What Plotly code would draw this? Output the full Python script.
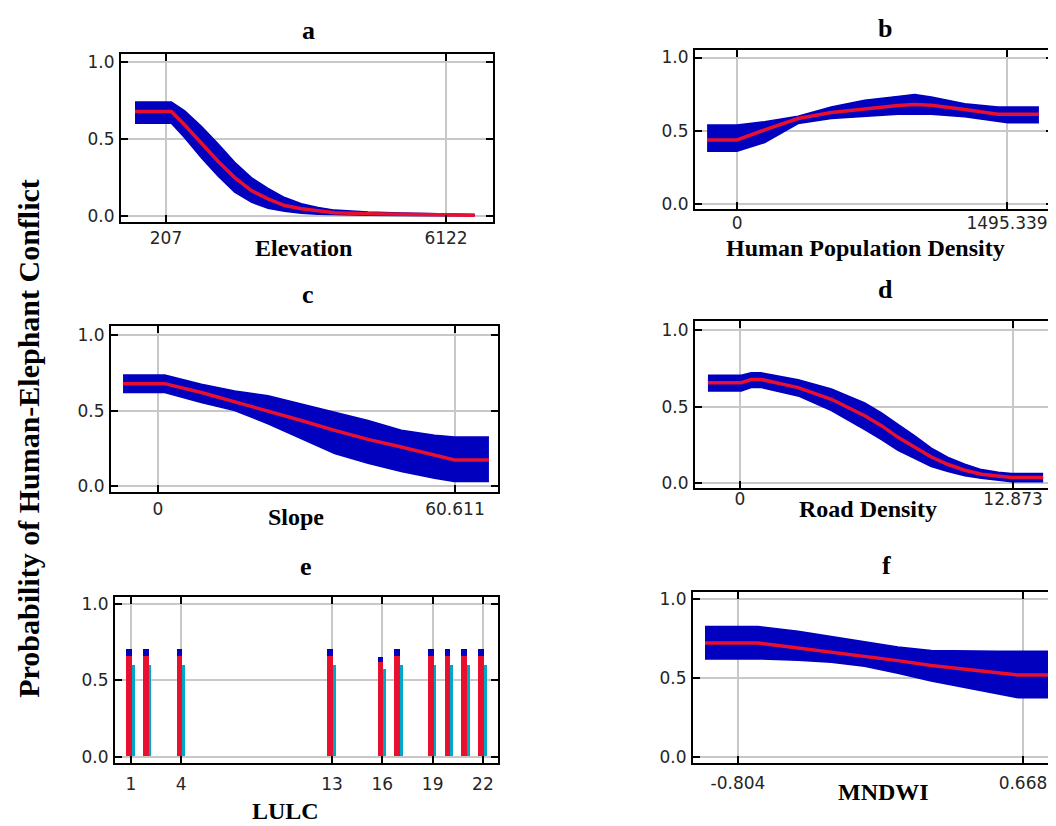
import plotly.graph_objects as go

W, H = 1056, 826

# ---------------- data ----------------
# a: Elevation
elev_x = [-448, 320, 602, 953, 1305, 1658, 2010, 2362, 2714, 3065, 3418, 3770, 4474, 5178, 6728]
elev_mean = [0.68, 0.68, 0.593, 0.475, 0.357, 0.25, 0.165, 0.111, 0.068, 0.047, 0.032, 0.021, 0.014, 0.01, 0.005]
elev_upper = [0.743, 0.743, 0.685, 0.585, 0.47, 0.35, 0.25, 0.18, 0.12, 0.08, 0.055, 0.038, 0.026, 0.019, 0.01]
elev_lower = [0.604, 0.604, 0.51, 0.38, 0.26, 0.155, 0.09, 0.05, 0.03, 0.018, 0.011, 0.008, 0.005, 0.003, 0.002]

# b: Human Population Density
pop_x = [-166, 0, 153, 338, 522, 707, 891, 984, 1076, 1261, 1445, 1500, 1672]
pop_mean = [0.438, 0.438, 0.506, 0.584, 0.625, 0.65, 0.672, 0.68, 0.674, 0.645, 0.613, 0.613, 0.613]
pop_upper = [0.54, 0.54, 0.562, 0.60, 0.663, 0.708, 0.735, 0.748, 0.73, 0.685, 0.663, 0.663, 0.663]
pop_lower = [0.36, 0.36, 0.42, 0.55, 0.584, 0.60, 0.613, 0.613, 0.613, 0.596, 0.562, 0.555, 0.555]

# c: Slope
slope_x = [-7.14, 1.36, 8.84, 15.65, 22.45, 29.25, 36.05, 42.86, 49.66, 56.46, 60.5, 67.55]
slope_mean = [0.678, 0.678, 0.62, 0.56, 0.5, 0.435, 0.37, 0.31, 0.26, 0.207, 0.174, 0.174]
slope_upper = [0.735, 0.735, 0.674, 0.63, 0.598, 0.543, 0.489, 0.435, 0.37, 0.337, 0.326, 0.326]
slope_lower = [0.62, 0.62, 0.554, 0.5, 0.413, 0.315, 0.217, 0.152, 0.098, 0.054, 0.033, 0.033]

# d: Road Density
road_x = [-1.51, 0.06, 0.53, 1.0, 2.74, 4.31, 5.88, 6.67, 7.45, 8.24, 9.02, 9.81, 10.6, 11.38, 12.17, 12.8, 14.29]
road_mean = [0.656, 0.656, 0.677, 0.677, 0.624, 0.548, 0.441, 0.376, 0.30, 0.237, 0.172, 0.123, 0.086, 0.06, 0.047, 0.039, 0.039]
road_upper = [0.705, 0.705, 0.72, 0.72, 0.675, 0.615, 0.525, 0.46, 0.385, 0.31, 0.23, 0.17, 0.125, 0.09, 0.072, 0.065, 0.065]
road_lower = [0.602, 0.602, 0.625, 0.625, 0.57, 0.475, 0.35, 0.285, 0.215, 0.16, 0.11, 0.078, 0.05, 0.033, 0.02, 0.011, 0.011]

# e: LULC (categorical)
lulc_cat = [1, 2, 4, 13, 16, 17, 19, 20, 21, 22]
lulc_mean = [0.66, 0.66, 0.66, 0.66, 0.616, 0.66, 0.66, 0.66, 0.66, 0.66]
lulc_upper = [0.706, 0.706, 0.706, 0.706, 0.654, 0.706, 0.706, 0.706, 0.706, 0.706]
lulc_lower = [0.598, 0.598, 0.598, 0.598, 0.572, 0.598, 0.598, 0.598, 0.598, 0.598]
lulc_ticks = [1, 4, 13, 16, 19, 22]

# f: MNDWI
mndwi_x = [-0.974, -0.70, -0.494, -0.322, -0.15, 0.022, 0.194, 0.367, 0.539, 0.642, 0.833]
mndwi_mean = [0.722, 0.722, 0.69, 0.665, 0.638, 0.61, 0.579, 0.555, 0.533, 0.518, 0.518]
mndwi_upper = [0.827, 0.827, 0.796, 0.764, 0.733, 0.697, 0.675, 0.67, 0.669, 0.669, 0.669]
mndwi_lower = [0.621, 0.621, 0.612, 0.60, 0.575, 0.53, 0.48, 0.438, 0.40, 0.375, 0.375]

y_ticks = [0.0, 0.5, 1.0]
y_ticktext = ["0.0", "0.5", "1.0"]

BLUE = "#0000BE"
RED = "#E8102E"
CYAN = "#00A8C8"

fig = go.Figure()

# ---------------- panel geometry (pixels) ----------------
panels = {
    # key: (x0, x1, ytop, ybottom, xrange, yrange, xticks, xticktext, standoff)
    "a": (113, 485, 43, 213, [-744, 7115], [-0.039, 1.058], [207, 6122], ["207", "6122"], 0),
    "b": (687, 1045, 39, 200, [-233, 1750], [-0.034, 1.054], [0, 1495.339], ["0", "1495.339"], -2),
    "c": (103, 490, 318, 486, [-9.6, 69.4], [-0.039, 1.059], [0, 60.611], ["0", "60.611"], 0),
    "d": (687, 1047, 313, 482, [-2.12, 14.85], [-0.032, 1.058], [0, 12.873], ["0", "12.873"], -6),
    "e": (107, 490, 592, 759, [0.045, 22.9], [-0.039, 1.045], lulc_ticks, [str(v) for v in lulc_ticks], 5),
    "f": (685, 1051, 587, 759, [-1.036, 0.854], [-0.038, 1.044], [-0.804, 0.668], ["-0.804", "0.668"], 4),
}

tickfont = dict(family="DejaVu Sans", size=17, color="#252525")
axis_common = dict(
    showgrid=True, gridcolor="#c8c8c8", gridwidth=1.5, zeroline=False,
    showline=True, linecolor="black", linewidth=2, mirror="allticks",
    ticks="inside", ticklen=7, tickwidth=2, tickcolor="black",
    tickmode="array", tickfont=tickfont, fixedrange=True,
)

for i, (key, (x0, x1, yt, yb, xr, yr, xtv, xtt, so)) in enumerate(panels.items()):
    n = "" if i == 0 else str(i + 1)
    fig.update_layout(**{
        f"xaxis{n}": dict(axis_common, domain=[x0 / W, x1 / W], range=xr,
                          tickvals=xtv, ticktext=xtt, anchor=f"y{n}",
                          ticklabelstandoff=so),
        f"yaxis{n}": dict(axis_common, domain=[1 - yb / H, 1 - yt / H], range=yr,
                          tickvals=y_ticks, ticktext=y_ticktext, anchor=f"x{n}",
                          ticklabelstandoff=1),
    })


def curve_panel(xs, mean, up, lo, n):
    xa, ya = f"x{n}", f"y{n}"
    fig.add_trace(go.Scatter(x=xs, y=lo, mode="lines", line=dict(width=0, color=BLUE),
                             xaxis=xa, yaxis=ya, showlegend=False, hoverinfo="skip"))
    fig.add_trace(go.Scatter(x=xs, y=up, mode="lines", line=dict(width=1.5, color=BLUE),
                             fill="tonexty", fillcolor=BLUE,
                             xaxis=xa, yaxis=ya, showlegend=False, hoverinfo="skip"))
    fig.add_trace(go.Scatter(x=xs, y=lo, mode="lines", line=dict(width=1.5, color=BLUE),
                             xaxis=xa, yaxis=ya, showlegend=False, hoverinfo="skip"))
    fig.add_trace(go.Scatter(x=xs, y=mean, mode="lines", line=dict(width=3.5, color=RED),
                             xaxis=xa, yaxis=ya, showlegend=False))


curve_panel(elev_x, elev_mean, elev_upper, elev_lower, "")
curve_panel(pop_x, pop_mean, pop_upper, pop_lower, "2")
curve_panel(slope_x, slope_mean, slope_upper, slope_lower, "3")
curve_panel(road_x, road_mean, road_upper, road_lower, "4")
curve_panel(mndwi_x, mndwi_mean, mndwi_upper, mndwi_lower, "6")

# panel e bars
cap = [u - m for u, m in zip(lulc_upper, lulc_mean)]
fig.add_trace(go.Bar(x=lulc_cat, y=lulc_mean, width=0.34, offset=-0.28, marker=dict(color=RED, line=dict(width=0)),
                     xaxis="x5", yaxis="y5", showlegend=False))
fig.add_trace(go.Bar(x=lulc_cat, y=cap, base=lulc_mean, width=0.34, offset=-0.28,
                     marker=dict(color=BLUE, line=dict(width=0)),
                     xaxis="x5", yaxis="y5", showlegend=False))
fig.add_trace(go.Bar(x=lulc_cat, y=lulc_lower, width=0.16, offset=0.06, marker=dict(color=CYAN, line=dict(width=0)),
                     xaxis="x5", yaxis="y5", showlegend=False))

# ---------------- text ----------------
serif = "Liberation Serif, Times New Roman, serif"


def ann(text, px, py, size, angle=0, yanchor="middle"):
    fig.add_annotation(text=f"<b>{text}</b>", x=px / W, y=1 - py / H, xref="paper", yref="paper",
                       showarrow=False, xanchor="center", yanchor=yanchor, textangle=angle,
                       font=dict(family=serif, size=size, color="black"))


# panel letters, anchored by the top of their text box
for letter, px, py in [("a", 300, 3), ("b", 877, 1), ("c", 300, 270),
                       ("d", 877, 265), ("e", 298, 544), ("f", 878, 543)]:
    ann(letter, px, py, 26, yanchor="top")

for title, px, py in [("Elevation", 295, 239), ("Human Population Density", 857, 239),
                      ("Slope", 288, 511), ("Road Density", 860, 503),
                      ("LULC", 277, 808), ("MNDWI", 875, 789)]:
    ann(title, px, py, 24)

ann("Probability of Human-Elephant Conflict", 21, 432, 30, angle=-90)

fig.update_layout(width=W, height=H, margin=dict(l=0, r=0, t=0, b=0),
                  paper_bgcolor="white", plot_bgcolor="white",
                  barmode="overlay", bargap=0, showlegend=False)

fig.write_html("out.html")
